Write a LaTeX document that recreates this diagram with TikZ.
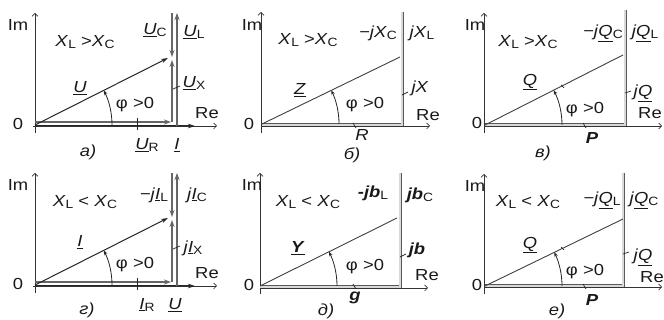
\documentclass[tikz,border=0pt]{standalone}
\usepackage{fontspec}
\setmainfont{Liberation Sans}[FakeStretch=1.15]
\usetikzlibrary{arrows.meta}
\newcommand{\uline}[1]{\underline{\textit{#1}}}
\newcommand{\sbs}[1]{\raisebox{-0.3ex}{\fontsize{12}{13}\selectfont #1}}
\begin{document}
\begin{tikzpicture}[x=1pt,y=1pt,
 lbl/.style={inner sep=0pt,font=\fontsize{16}{18}\selectfont,text=black!90},
 axis/.style={draw=black!80,line width=0.7pt,-{Straight Barb[length=3pt,width=6pt]}},
 vec/.style={draw=black!85,line width=1pt,-{Stealth[length=7pt,width=4.5pt]}},
 gvec/.style={draw=black!60,line width=1.6pt,-{Stealth[length=7pt,width=5pt]}},
 dbl/.style={draw=black!65,double=black!15,double distance=1.6pt,line width=0.7pt},
 hyp/.style={draw=black!75,line width=0.9pt},
 arcarr/.style={draw=black!85,line width=0.8pt,-{Stealth[length=4.5pt,width=3.5pt]}},
 lead/.style={draw=black!85,line width=0.7pt}]
\useasboundingbox[fill=white] (0,0) rectangle (664,320);

% ---------- panel a ----------
\begin{scope}[shift={(35,195)}]
\coordinate (aO) at (0,0);
\coordinate (aImB) at (0,-8); \coordinate (aImT) at (0,112);
\coordinate (aReL) at (-2,-1); \coordinate (aReR) at (182,-1);
\coordinate (aIs) at (0,-1); \coordinate (aIe) at (160,-1);
\coordinate (aURs) at (0,3); \coordinate (aURe) at (136,3);
\coordinate (aUXs) at (137,3); \coordinate (aUXe) at (137,65);
\coordinate (aULs) at (142,-1); \coordinate (aULe) at (142,112);
\coordinate (aUCs) at (137,112); \coordinate (aUCe) at (137,68);
\coordinate (aU) at (133,67);
\coordinate (aArc) at (77,0);
\coordinate (aL1) at (102,7); \coordinate (aL2) at (102,-5);
\coordinate (aL3) at (138,36); \coordinate (aL4) at (145,39);
\draw[axis] (aImB) -- (aImT);
\draw[axis] (aReL) -- (aReR);
\draw[vec] (aIs) -- (aIe);
\draw[gvec] (aURs) -- (aURe);
\draw[gvec] (aUXs) -- (aUXe);
\draw[gvec] (aULs) -- (aULe);
\draw[gvec] (aUCs) -- (aUCe);
\draw[vec] (aO) -- (aU);
\draw[arcarr] (aArc) arc[start angle=0,end angle=26.7,radius=77];
\draw[lead] (aL1) -- (aL2);
\draw[lead] (aL3) -- (aL4);
\node[lbl] (aim) at (-17,100) {Im};
\node[lbl] (azero) at (-17,1) {0};
\node[lbl] (acond) at (50,83) {\textit{X}\sbs{L} >\textit{X}\sbs{C}};
\node[lbl] (auc) at (120,95) {\uline{U}\sbs{C}};
\node[lbl] (aul) at (159,93) {\uline{U}\sbs{L}};
\node[lbl] (aux) at (159,42) {\uline{U}\sbs{X}};
\node[lbl] (au) at (45,37) {\uline{U}};
\node[lbl] (aphi) at (100,20) {φ >0};
\node[lbl] (are) at (172,12) {Re};
\node[lbl] (aur) at (112,-20) {\uline{U}\sbs{R}};
\node[lbl] (ai) at (142,-20) {\uline{I}};
\node[lbl] (acap) at (53,-27) {\textit{a)}};
\end{scope}

% ---------- panel b ----------
\begin{scope}[shift={(262,196)}]
\coordinate (bO) at (0,0);
\coordinate (bImB) at (-1,-9); \coordinate (bImT) at (-1,112);
\coordinate (bReL) at (0,-2); \coordinate (bReR) at (168,-2);
\coordinate (bZ) at (138,67);
\coordinate (bVb) at (140,-1); \coordinate (bVt) at (140,112);
\coordinate (bHl) at (0,-1);
\coordinate (bArc) at (77,0);
\coordinate (bL1) at (91,1); \coordinate (bL2) at (94,-4);
\coordinate (bL3) at (140,29); \coordinate (bL4) at (146,32);
\draw[axis] (bImB) -- (bImT);
\draw[axis] (bReL) -- (bReR);
\draw[dbl] (bHl) -- (bVb) -- (bVt);
\draw[hyp] (bO) -- (bZ);
\draw[arcarr] (bArc) arc[start angle=0,end angle=25.9,radius=77];
\draw[lead] (bL1) -- (bL2);
\draw[lead] (bL3) -- (bL4);
\node[lbl] (bim) at (-10,99) {Im};
\node[lbl] (bzero) at (-13,0) {0};
\node[lbl] (bcond) at (46,84) {\textit{X}\sbs{L} >\textit{X}\sbs{C}};
\node[lbl] (bxc) at (116,91) {\textit{−jX}\sbs{C}};
\node[lbl] (bxl) at (160,91) {\textit{jX}\sbs{L}};
\node[lbl] (bz) at (38,34) {\uline{Z}};
\node[lbl] (bphi) at (103,19) {φ >0};
\node[lbl] (bx) at (158,36) {\textit{jX}};
\node[lbl] (bre) at (166,9) {Re};
\node[lbl] (br) at (100,-11) {\textit{R}};
\node[lbl] (bcap) at (90,-31) {\textit{б)}};
\end{scope}

% ---------- panel v ----------
\begin{scope}[shift={(485,195)}]
\coordinate (cO) at (0,0);
\coordinate (cImB) at (-1,-8); \coordinate (cImT) at (-1,112);
\coordinate (cReL) at (0,-1); \coordinate (cReR) at (177,-1);
\coordinate (cQ) at (138,70);
\coordinate (cVb) at (140,0); \coordinate (cVt) at (140,115);
\coordinate (cArc) at (77,0);
\coordinate (cL1) at (98,2); \coordinate (cL2) at (101,-3);
\coordinate (cL3) at (140,32); \coordinate (cL4) at (146,34);
\coordinate (cL5) at (76,40); \coordinate (cL6) at (79,37);
\draw[axis] (cImB) -- (cImT);
\draw[axis] (cReL) -- (cReR);
\draw[dbl] (cO) -- (cVb) -- (cVt);
\draw[hyp] (cO) -- (cQ);
\draw[arcarr] (cArc) arc[start angle=0,end angle=26.9,radius=77];
\draw[lead] (cL1) -- (cL2);
\draw[lead] (cL3) -- (cL4);
\draw[lead] (cL5) -- (cL6);
\node[lbl] (cim) at (-10,100) {Im};
\node[lbl] (czero) at (-8,2) {0};
\node[lbl] (ccond) at (43,83) {\textit{X}\sbs{L} >\textit{X}\sbs{C}};
\node[lbl] (cqc) at (118,92) {\textit{−j}\uline{Q}\sbs{C}};
\node[lbl] (cql) at (160,92) {\textit{j}\uline{Q}\sbs{L}};
\node[lbl] (cq) at (45,43) {\uline{Q}};
\node[lbl] (cphi) at (100,15) {φ >0};
\node[lbl] (cjq) at (158,32) {\textit{j}\uline{Q}};
\node[lbl] (cre) at (165,12) {Re};
\node[lbl] (cp) at (107,-13) {\textbf{\textit{P}}};
\node[lbl] (ccap) at (58,-28) {\textit{в)}};
\end{scope}

% ---------- panel g ----------
\begin{scope}[shift={(35,35)}]
\coordinate (dO) at (0,0);
\coordinate (dImB) at (0,-8); \coordinate (dImT) at (0,112);
\coordinate (dReL) at (-2,-1); \coordinate (dReR) at (182,-1);
\coordinate (dUs) at (0,-1); \coordinate (dUe) at (160,-1);
\coordinate (dIRs) at (0,3); \coordinate (dIRe) at (136,3);
\coordinate (dIXs) at (137,3); \coordinate (dIXe) at (137,65);
\coordinate (dICs) at (142,-1); \coordinate (dICe) at (142,112);
\coordinate (dILs) at (137,112); \coordinate (dILe) at (137,68);
\coordinate (dI) at (133,67);
\coordinate (dArc) at (77,0);
\coordinate (dL1) at (102,7); \coordinate (dL2) at (102,-5);
\coordinate (dL3) at (138,36); \coordinate (dL4) at (145,39);
\draw[axis] (dImB) -- (dImT);
\draw[axis] (dReL) -- (dReR);
\draw[vec] (dUs) -- (dUe);
\draw[gvec] (dIRs) -- (dIRe);
\draw[gvec] (dIXs) -- (dIXe);
\draw[gvec] (dICs) -- (dICe);
\draw[gvec] (dILs) -- (dILe);
\draw[vec] (dO) -- (dI);
\draw[arcarr] (dArc) arc[start angle=0,end angle=26.7,radius=77];
\draw[lead] (dL1) -- (dL2);
\draw[lead] (dL3) -- (dL4);
\node[lbl] (dim) at (-17,100) {Im};
\node[lbl] (dzero) at (-17,1) {0};
\node[lbl] (dcond) at (50,83) {\textit{X}\sbs{L} < \textit{X}\sbs{C}};
\node[lbl] (dil) at (119,90) {\textit{−j}\uline{I}\sbs{L}};
\node[lbl] (dic) at (162,90) {\textit{j}\uline{I}\sbs{C}};
\node[lbl] (dix) at (158,37) {\textit{j}\uline{I}\sbs{X}};
\node[lbl] (di) at (45,43) {\uline{I}};
\node[lbl] (dphi) at (100,20) {φ >0};
\node[lbl] (dre) at (172,12) {Re};
\node[lbl] (dir) at (112,-20) {\uline{I}\sbs{R}};
\node[lbl] (du) at (140,-20) {\uline{U}};
\node[lbl] (dcap) at (52,-25) {\textit{г)}};
\end{scope}

% ---------- panel d ----------
\begin{scope}[shift={(260,34)}]
\coordinate (eO) at (0,0);
\coordinate (eImB) at (0,-8); \coordinate (eImT) at (0,113);
\coordinate (eReL) at (0,-2); \coordinate (eReR) at (168,-2);
\coordinate (eY) at (137,68);
\coordinate (eVb) at (140,-1); \coordinate (eVt) at (140,113);
\coordinate (eHl) at (0,-1);
\coordinate (eArc) at (77,0);
\coordinate (eL1) at (93,2); \coordinate (eL2) at (96,-3);
\coordinate (eL3) at (140,29); \coordinate (eL4) at (146,32);
\draw[axis] (eImB) -- (eImT);
\draw[axis] (eReL) -- (eReR);
\draw[dbl] (eHl) -- (eVb) -- (eVt);
\draw[hyp] (eO) -- (eY);
\draw[arcarr] (eArc) arc[start angle=0,end angle=26.4,radius=77];
\draw[lead] (eL1) -- (eL2);
\draw[lead] (eL3) -- (eL4);
\node[lbl] (eim) at (-8,101) {Im};
\node[lbl] (ezero) at (-11,1) {0};
\node[lbl] (econd) at (48,84) {\textit{X}\sbs{L} < \textit{X}\sbs{C}};
\node[lbl] (ebl) at (113,93) {\textbf{\textit{-jb}}\sbs{L}};
\node[lbl] (ebc) at (160,91) {\textbf{\textit{jb}}\sbs{C}};
\node[lbl] (ey) at (38,38) {\textbf{\underline{\textit{Y}}}};
\node[lbl] (ephi) at (105,19) {φ >0};
\node[lbl] (eb) at (157,36) {\textbf{\textit{jb}}};
\node[lbl] (ere) at (167,11) {Re};
\node[lbl] (eg) at (95,-12) {\textbf{\textit{g}}};
\node[lbl] (ecap) at (66,-25) {\textit{д)}};
\end{scope}

% ---------- panel e ----------
\begin{scope}[shift={(485,34)}]
\coordinate (fO) at (0,0);
\coordinate (fImB) at (-1,-8); \coordinate (fImT) at (-1,112);
\coordinate (fReL) at (0,-1); \coordinate (fReR) at (177,-1);
\coordinate (fQ) at (138,67);
\coordinate (fVb) at (138,0); \coordinate (fVt) at (138,113);
\coordinate (fArc) at (77,0);
\coordinate (fL1) at (98,2); \coordinate (fL2) at (101,-3);
\coordinate (fL3) at (138,32); \coordinate (fL4) at (144,34);
\coordinate (fL5) at (76,39); \coordinate (fL6) at (79,36);
\draw[axis] (fImB) -- (fImT);
\draw[axis] (fReL) -- (fReR);
\draw[dbl] (fO) -- (fVb) -- (fVt);
\draw[hyp] (fO) -- (fQ);
\draw[arcarr] (fArc) arc[start angle=0,end angle=25.9,radius=77];
\draw[lead] (fL1) -- (fL2);
\draw[lead] (fL3) -- (fL4);
\draw[lead] (fL5) -- (fL6);
\node[lbl] (fim) at (-10,100) {Im};
\node[lbl] (fzero) at (-8,1) {0};
\node[lbl] (fcond) at (43,84) {\textit{X}\sbs{L} < \textit{X}\sbs{C}};
\node[lbl] (fql) at (117,86) {\textit{−j}\uline{Q}\sbs{L}};
\node[lbl] (fqc) at (159,86) {\textit{j}\uline{Q}\sbs{C}};
\node[lbl] (fq) at (45,41) {\uline{Q}};
\node[lbl] (fphi) at (100,14) {φ >0};
\node[lbl] (fjq) at (158,29) {\textit{j}\uline{Q}};
\node[lbl] (fre) at (167,9) {Re};
\node[lbl] (fp) at (107,-14) {\textbf{\textit{P}}};
\node[lbl] (fcap) at (72,-25) {\textit{е)}};
\end{scope}
\end{tikzpicture}
\end{document}
